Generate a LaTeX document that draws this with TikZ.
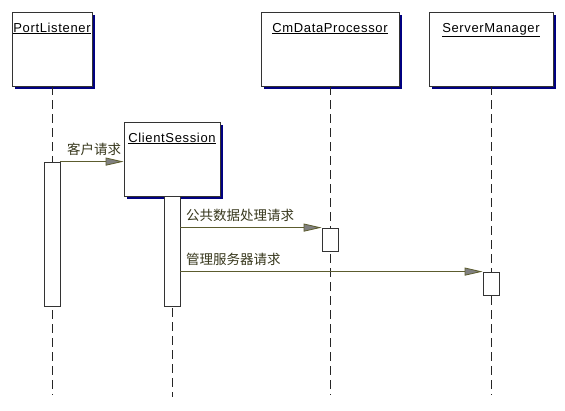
\documentclass[tikz,border=0pt]{standalone}
\usepackage{fontspec}
\setmainfont{Liberation Sans}
\newfontfamily\objfont[LetterSpace=5]{Liberation Sans}
\newfontfamily\cjk{Noto Sans CJK SC}
\usetikzlibrary{arrows.meta,shadows}
\definecolor{msgcol}{RGB}{92,92,46}
\definecolor{shadowcol}{RGB}{0,0,128}

\begin{document}
\begin{tikzpicture}[x=1pt,y=-1pt]
	\tikzset{
		object/.style={%
		      draw=black!80,
		      fill=white,
		      line width=0.8pt,
		      font=\objfont\fontsize{13}{15}\selectfont,
		      text height=18pt,
		      text depth=52pt,
		      inner ysep=2pt,
		      inner xsep=0pt,
		      drop shadow={shadow xshift=3pt,shadow yshift=-3pt,fill=shadowcol,opacity=1}},
		activation/.style={%
		      draw=black!80,
		      fill=white,
		      line width=0.8pt,
		      inner sep=0pt,
		      minimum width=16pt}
	}

	\tikzstyle{lifeline_style} = [draw=black!85, line width=0.8pt, dash pattern=on 9pt off 5pt]
	\tikzstyle{msg_style} = [draw=msgcol, line width=0.8pt, -{Triangle[length=18pt,width=8pt,fill=gray]}]
	\tikzstyle{msg_label} = [text=msgcol!60!black, font=\cjk\fontsize{13.5}{15}\selectfont, inner sep=0pt, anchor=south west]

	\useasboundingbox (0,0) rectangle (565,410);

	% objects
	\node[object, minimum width=80pt] (pl) at (52,49) {\underline{PortListener}};
	\node[object, minimum width=138pt] (cdp) at (330,49) {\underline{CmDataProcessor}};
	\node[object, minimum width=124pt] (sm) at (491,49) {\underline{ServerManager}};
	\node[object, minimum width=96pt] (cs) at (172,159) {\underline{ClientSession}};

	% lifelines
	\coordinate (pl_end) at (52,395);
	\coordinate (cs_end) at (172,397);
	\coordinate (cdp_end) at (330,395);
	\coordinate (sm_end) at (491,395);
	\draw[lifeline_style] (pl.south) -- (pl_end);
	\draw[lifeline_style] (cs.south) -- (cs_end);
	\draw[lifeline_style] (cdp.south) -- (cdp_end);
	\draw[lifeline_style] (sm.south) -- (sm_end);

	% activations
	\node[activation, minimum height=144pt] (pl_act) at (52,234) {};
	\node[activation, minimum height=110pt] (cs_act) at (172,251) {};
	\node[activation, minimum height=23pt] (cdp_act) at (330,239.5) {};
	\node[activation, minimum height=23pt] (sm_act) at (491,283.5) {};

	% messages
	\draw[msg_style] (pl_act.north east) -- (pl_act.north east -| cs.west);
	\draw[msg_style] (cs_act.east |- cdp_act.north) -- (cdp_act.north west);
	\draw[msg_style] (cs_act.east |- sm_act.north) -- (sm_act.north west);

	\node[msg_label] (m1) at (67,156) {客户请求};
	\node[msg_label] (m2) at (186,222) {公共数据处理请求};
	\node[msg_label] (m3) at (186,266) {管理服务器请求};

\end{tikzpicture}
\end{document}
